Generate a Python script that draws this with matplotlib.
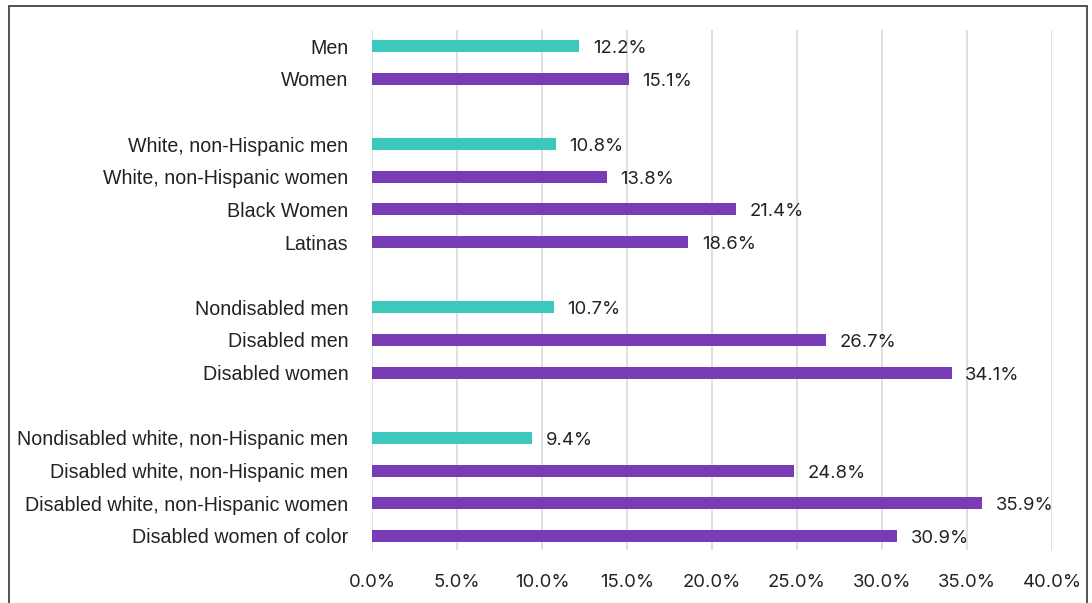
import matplotlib.pyplot as plt
from matplotlib.patches import Rectangle

# Category labels, top to bottom, with the slot each one sits in (gaps between groups)
labels = ["Men", "Women",
          "White, non-Hispanic men", "White, non-Hispanic women", "Black Women", "Latinas",
          "Nondisabled men", "Disabled men", "Disabled women",
          "Nondisabled white, non-Hispanic men", "Disabled white, non-Hispanic men",
          "Disabled white, non-Hispanic women", "Disabled women of color"]
slots = [0, 1, 3, 4, 5, 6, 8, 9, 10, 12, 13, 14, 15]
values = [12.2, 15.1, 10.8, 13.8, 21.4, 18.6, 10.7, 26.7, 34.1, 9.4, 24.8, 35.9, 30.9]
is_men = [True, False, True, False, False, False, True, False, False, True, False, False, False]

teal = "#3CC8BC"
purple = "#783CB4"
colors = [teal if m else purple for m in is_men]

fig = plt.figure(figsize=(10.92, 6.03), dpi=100)
ax = fig.add_axes([0.3407, 0.0879, 0.6227, 0.8623])

ax.barh(slots, values, height=0.37, color=colors, zorder=3)

# value labels right of each bar
for s, v in zip(slots, values):
    ax.text(v + 0.8, s + 0.08, f"{v:.1f}%", va="center", ha="left",
            fontsize=13.3, family="Inter", color="#222222")

ax.set_xlim(0, 40)
ax.set_ylim(15.43, -0.49)
ax.set_xticks(range(0, 41, 5))
ax.set_xticklabels([f"{t:.1f}%" for t in range(0, 41, 5)], family="Inter", fontsize=13.3, color="#222222")
ax.set_yticks(slots)
ax.set_yticklabels(labels, family="Liberation Sans", fontsize=14.1, color="#222222")
ax.tick_params(axis="y", length=0, pad=17)
ax.tick_params(axis="x", length=0, pad=17)

ax.grid(axis="x", color="#d9d9d9", linewidth=1.2, zorder=0)
for side in ["top", "right", "bottom", "left"]:
    ax.spines[side].set_visible(False)

# outer frame around the chart
fig.patches.append(Rectangle((9 / 1092, -0.05), 1078 / 1092, 1 - 6 / 603 + 0.05,
                             transform=fig.transFigure, fill=False,
                             edgecolor="#444444", linewidth=1.3))

fig.savefig("out.png", dpi=100)
